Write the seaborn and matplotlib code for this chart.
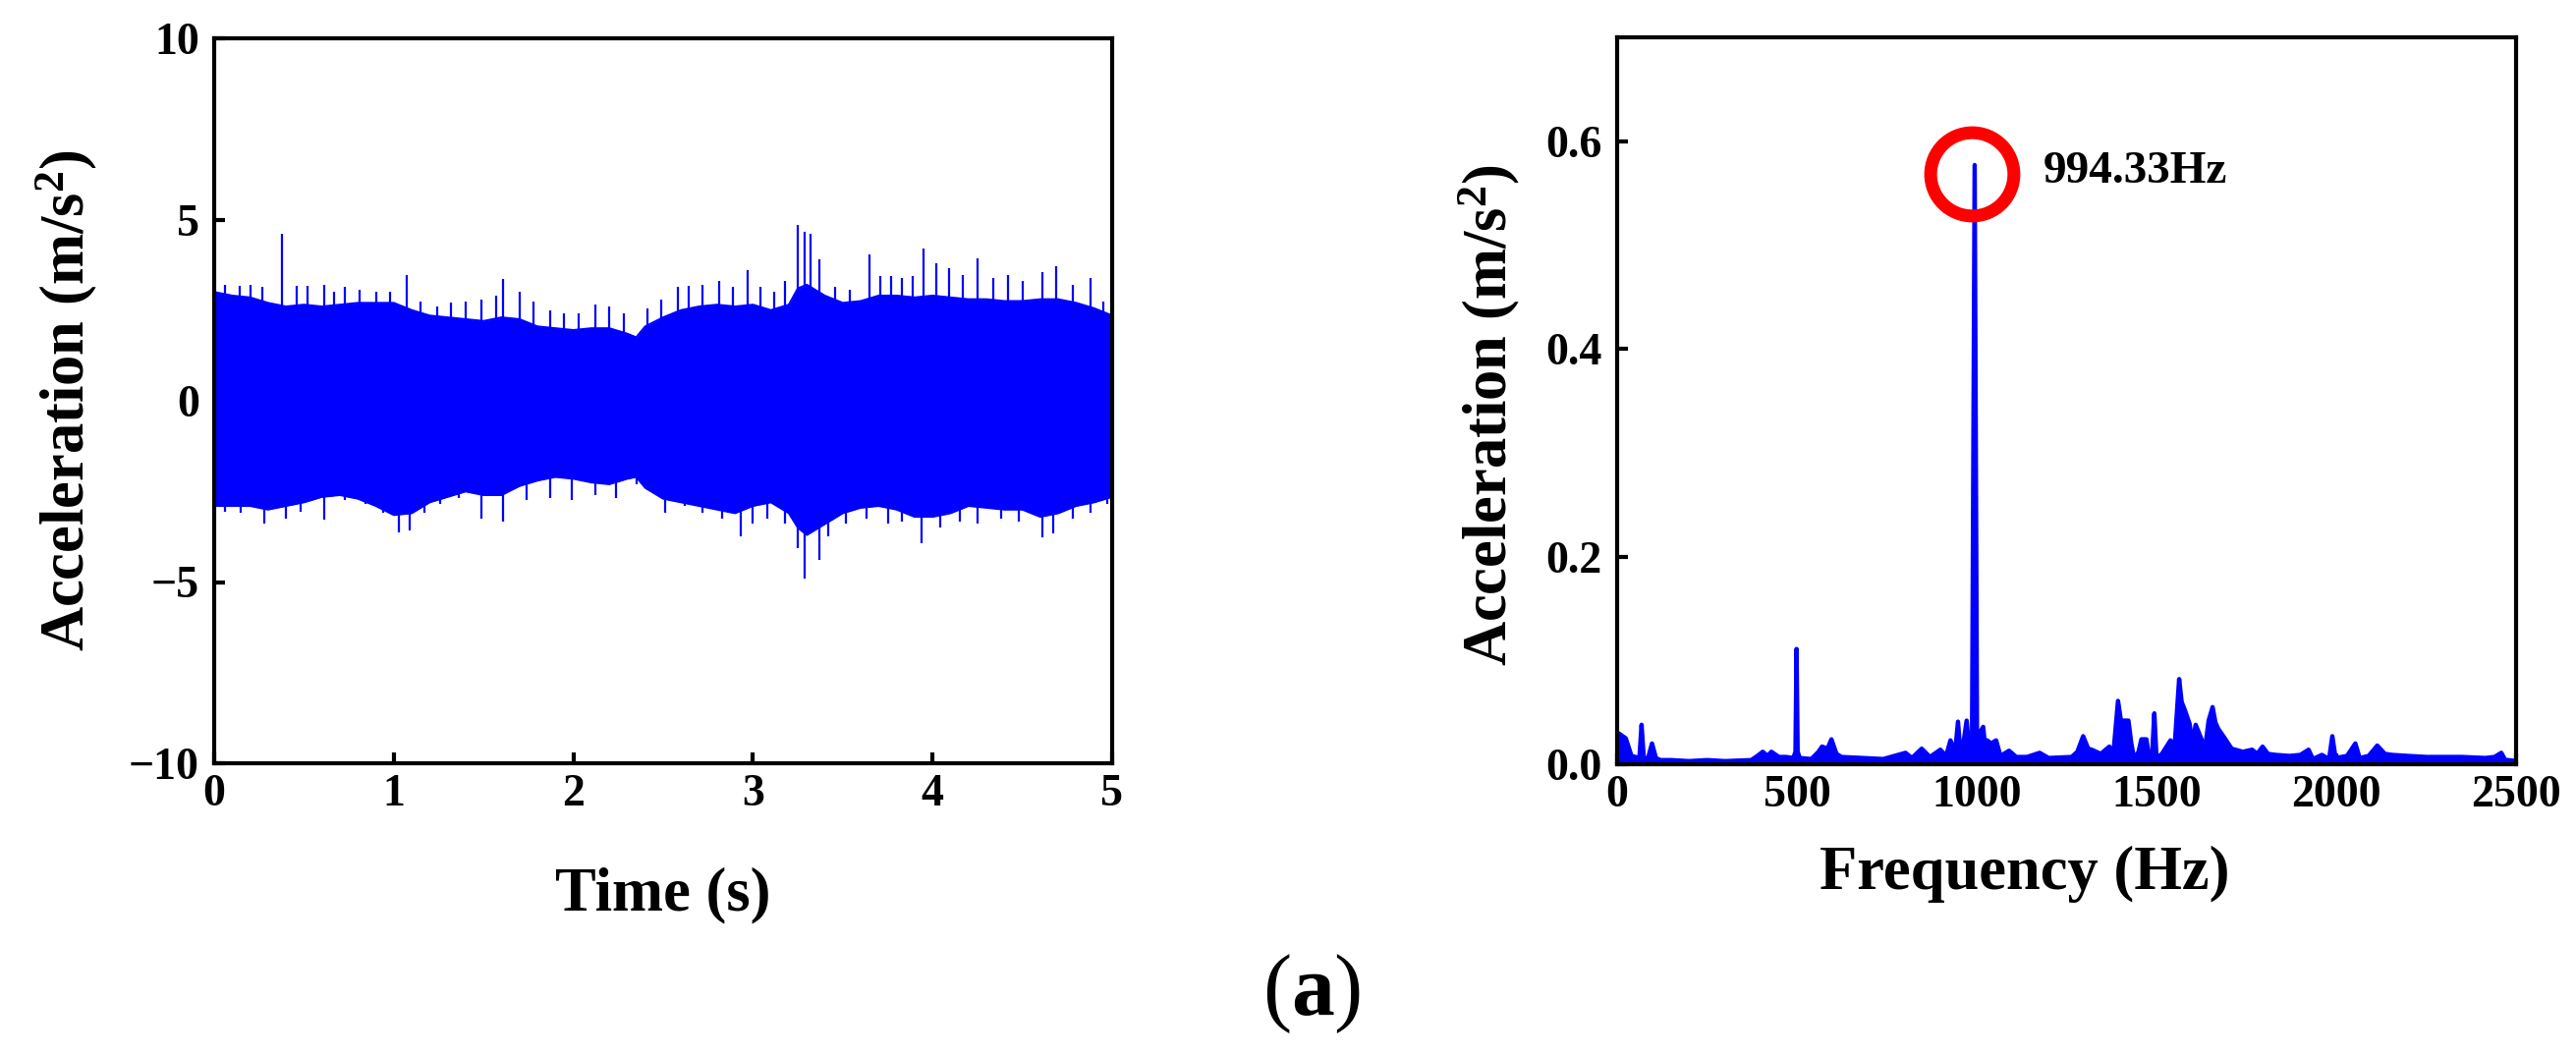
import numpy as np
import pandas as pd
import matplotlib
matplotlib.use("Agg")
import matplotlib.pyplot as plt
import matplotlib.transforms as mtransforms
import seaborn as sns

# ---------------- data ----------------
# Time-domain signal: envelope of the dense vibration band
band_t = [0.0, 0.1, 0.2, 0.3, 0.4, 0.5, 0.6, 0.7, 0.8, 0.9, 1.0, 1.1, 1.2, 1.3, 1.4,
          1.5, 1.6, 1.7, 1.8, 1.9, 2.0, 2.1, 2.2, 2.3, 2.35, 2.4, 2.5, 2.6, 2.7, 2.8,
          2.9, 3.0, 3.1, 3.2, 3.25, 3.3, 3.4, 3.5, 3.6, 3.7, 3.8, 3.9, 4.0, 4.1, 4.2,
          4.3, 4.4, 4.5, 4.6, 4.7, 4.8, 4.9, 5.0]
band_hi = [3.0, 2.9, 2.85, 2.7, 2.6, 2.65, 2.6, 2.65, 2.7, 2.7, 2.7, 2.5, 2.35, 2.3, 2.25,
           2.2, 2.3, 2.25, 2.05, 2.0, 1.95, 2.0, 2.0, 1.85, 1.75, 2.05, 2.3, 2.5, 2.6, 2.65,
           2.6, 2.65, 2.5, 2.65, 3.1, 3.2, 2.9, 2.7, 2.75, 2.9, 2.9, 2.85, 2.9, 2.85, 2.8,
           2.8, 2.75, 2.75, 2.8, 2.8, 2.7, 2.55, 2.35]
band_lo = [-2.9, -2.9, -2.9, -3.0, -2.9, -2.8, -2.65, -2.6, -2.7, -2.9, -3.15, -3.1, -2.8, -2.65, -2.5,
           -2.6, -2.6, -2.35, -2.2, -2.1, -2.15, -2.25, -2.3, -2.15, -2.1, -2.4, -2.7, -2.8, -2.9, -3.0,
           -3.1, -2.9, -2.8, -3.1, -3.5, -3.7, -3.4, -3.1, -2.95, -2.9, -3.0, -3.2, -3.2, -3.1, -2.9,
           -2.95, -3.0, -3.0, -3.2, -3.1, -2.9, -2.8, -2.65]
# isolated peaks sticking out of the band (positive side)
spike_up_t = [0.06, 0.14, 0.20, 0.27, 0.377, 0.46, 0.52, 0.61, 0.67, 0.73, 0.81, 0.90, 0.98,
              1.07, 1.15, 1.24, 1.32, 1.40, 1.49, 1.57, 1.61, 1.70, 1.78, 1.87, 1.95, 2.03,
              2.12, 2.20, 2.28, 2.41, 2.49, 2.58, 2.64, 2.72, 2.81, 2.89, 2.97, 3.04, 3.12,
              3.18, 3.25, 3.29, 3.32, 3.37, 3.46, 3.54, 3.65, 3.71, 3.77, 3.83, 3.89, 3.95,
              4.02, 4.09, 4.17, 4.25, 4.34, 4.42, 4.50, 4.61, 4.69, 4.78, 4.88, 4.95]
spike_up_v = [3.2, 3.18, 3.2, 3.15, 4.62, 3.18, 3.18, 3.2, 3.0, 3.15, 3.07, 3.0, 3.0,
              3.47, 2.75, 2.6, 2.7, 2.75, 2.8, 2.9, 3.35, 3.0, 2.75, 2.5, 2.4, 2.4,
              2.65, 2.6, 2.4, 2.55, 2.8, 3.15, 3.18, 3.2, 3.3, 3.15, 3.6, 3.15, 3.0,
              3.3, 4.85, 4.65, 4.6, 3.9, 3.15, 3.07, 4.05, 3.45, 3.45, 3.4, 3.45, 4.2,
              3.8, 3.65, 3.47, 3.93, 3.4, 3.47, 3.3, 3.55, 3.7, 3.2, 3.4, 2.75]
# isolated peaks sticking out of the band (negative side)
spike_dn_t = [0.06, 0.15, 0.28, 0.40, 0.48, 0.61, 0.73, 0.84, 0.94, 1.03, 1.09, 1.17, 1.26,
              1.36, 1.49, 1.61, 1.74, 1.87, 1.99, 2.12, 2.24, 2.35, 2.51, 2.62, 2.72, 2.83,
              2.93, 3.00, 3.08, 3.18, 3.25, 3.29, 3.37, 3.42, 3.52, 3.63, 3.75, 3.83, 3.94,
              4.04, 4.15, 4.25, 4.38, 4.48, 4.61, 4.67, 4.78, 4.88, 4.97]
spike_dn_v = [-3.05, -3.1, -3.4, -3.25, -3.05, -3.28, -2.75, -2.85, -3.08, -3.62, -3.57, -3.08, -2.85,
              -2.67, -3.25, -3.33, -2.75, -2.67, -2.75, -2.6, -2.67, -2.3, -3.1, -2.9, -3.08, -3.25,
              -3.74, -3.4, -3.25, -3.4, -4.07, -4.9, -4.4, -3.74, -3.4, -3.25, -3.4, -3.33, -3.93,
              -3.5, -3.33, -3.4, -3.25, -3.33, -3.78, -3.66, -3.25, -3.08, -2.85]

# Frequency spectrum
freq = [0, 3, 24, 40, 62, 68, 74, 86, 97, 108, 120, 150, 200, 250, 300, 373, 390,
        405, 418, 429, 450, 470, 490, 496, 499, 502, 508, 540, 560, 570, 585, 596,
        610, 624, 680, 740, 802, 820, 847, 870, 899, 915, 927, 940, 948, 955, 963,
        972, 980, 987, 994.33, 1001, 1008, 1018, 1024, 1029, 1040, 1054, 1066, 1090,
        1110, 1140, 1175, 1200, 1264, 1280, 1296, 1310, 1320, 1345, 1369, 1380, 1393,
        1402, 1409, 1422, 1430, 1438, 1450, 1458, 1472, 1480, 1488, 1494, 1500, 1515,
        1539, 1550, 1563, 1570, 1579, 1592, 1600, 1609, 1623, 1635, 1645, 1656, 1664,
        1672, 1688, 1709, 1740, 1766, 1780, 1795, 1810, 1831, 1870, 1900, 1923, 1935,
        1960, 1980, 1989, 1998, 2030, 2053, 2065, 2090, 2114, 2135, 2155, 2200, 2252,
        2300, 2350, 2414, 2440, 2459, 2470, 2478, 2500]
amp = [0.030, 0.030, 0.025, 0.008, 0.006, 0.038, 0.006, 0.006, 0.020, 0.006, 0.004, 0.004,
       0.003, 0.004, 0.003, 0.004, 0.008, 0.012, 0.008, 0.012, 0.007, 0.007, 0.006, 0.012,
       0.111, 0.012, 0.006, 0.005, 0.012, 0.017, 0.015, 0.024, 0.010, 0.007, 0.006, 0.005,
       0.011, 0.006, 0.015, 0.007, 0.014, 0.008, 0.023, 0.012, 0.041, 0.010, 0.020, 0.042,
       0.012, 0.020, 0.577, 0.015, 0.030, 0.036, 0.015, 0.023, 0.020, 0.023, 0.008, 0.013,
       0.007, 0.007, 0.011, 0.006, 0.007, 0.012, 0.027, 0.015, 0.014, 0.010, 0.017, 0.010,
       0.061, 0.040, 0.042, 0.042, 0.020, 0.005, 0.012, 0.024, 0.024, 0.005, 0.010, 0.049,
       0.006, 0.010, 0.023, 0.015, 0.082, 0.060, 0.052, 0.039, 0.020, 0.038, 0.026, 0.015,
       0.042, 0.055, 0.040, 0.034, 0.026, 0.015, 0.012, 0.014, 0.010, 0.017, 0.010, 0.009,
       0.008, 0.009, 0.014, 0.005, 0.009, 0.005, 0.027, 0.006, 0.008, 0.020, 0.006, 0.008,
       0.018, 0.010, 0.009, 0.008, 0.007, 0.007, 0.007, 0.006, 0.007, 0.011, 0.004, 0.004,
       0.003]

peak_freq = 994.33
peak_amp = 0.577
peak_label = "994.33Hz"

time_ticks = [0, 1, 2, 3, 4, 5]
acc_ticks = [-10, -5, 0, 5, 10]
freq_ticks = [0, 500, 1000, 1500, 2000, 2500]
spec_ticks = [0.0, 0.2, 0.4, 0.6]

# ---------------- style ----------------
sns.set_style("ticks")
plt.rcParams["font.family"] = ["Liberation Serif", "DejaVu Serif"]
plt.rcParams["font.weight"] = "bold"
plt.rcParams["mathtext.fontset"] = "custom"
plt.rcParams["mathtext.rm"] = "Liberation Serif:regular"
plt.rcParams["mathtext.bf"] = "Liberation Serif:bold"
plt.rcParams["mathtext.it"] = "Liberation Serif:italic"
plt.rcParams["axes.unicode_minus"] = True
for k in ("text.color", "axes.labelcolor", "xtick.color", "ytick.color",
          "xtick.labelcolor", "ytick.labelcolor", "axes.edgecolor"):
    plt.rcParams[k] = "black"

BLUE = "#0000FF"
TICK_FS = 33
LABEL_FS = 45

W, H = 2622, 1074
fig = plt.figure(figsize=(W / 100, H / 100), dpi=100)
ax1 = fig.add_axes([218 / W, 1 - 777 / H, 914 / W, 738 / H])
ax2 = fig.add_axes([1646 / W, 1 - 778 / H, 915 / W, 740 / H])

# ---------------- left: time signal ----------------
sig = pd.DataFrame({"t": band_t, "hi": band_hi, "lo": band_lo})
ax1.fill_between(sig["t"], sig["lo"], sig["hi"], color=BLUE, linewidth=0)
sns.lineplot(data=sig, x="t", y="hi", ax=ax1, color=BLUE, lw=1.5)
sns.lineplot(data=sig, x="t", y="lo", ax=ax1, color=BLUE, lw=1.5)
ax1.vlines(spike_up_t, 0, spike_up_v, color=BLUE, lw=1.6)
ax1.vlines(spike_dn_t, 0, spike_dn_v, color=BLUE, lw=1.6)
ax1.set_xlim(0, 5)
ax1.set_ylim(-10, 10)
ax1.set_xticks(time_ticks)
ax1.set_yticks(acc_ticks)
ax1.set_xlabel("Time (s)", fontsize=LABEL_FS, fontweight="bold")
ax1.set_ylabel(r"Acceleration (m/s$^{\mathbf{2}}$)", fontsize=LABEL_FS, fontweight="bold")
ax1.xaxis.set_label_coords(0.5, -0.143)
ax1.yaxis.set_label_coords(-0.128, 0.5)

# ---------------- right: spectrum ----------------
spec = pd.DataFrame({"f": freq, "a": amp})
ax2.fill_between(spec["f"], 0, spec["a"], color=BLUE, linewidth=0)
sns.lineplot(data=spec, x="f", y="a", ax=ax2, color=BLUE, lw=3.2)
ax2.set_xlim(0, 2500)
ax2.set_ylim(0, 0.7)
ax2.set_xticks(freq_ticks)
ax2.set_yticks(spec_ticks)
ax2.yaxis.set_major_formatter(matplotlib.ticker.FormatStrFormatter("%.1f"))
ax2.set_xlabel("Frequency (Hz)", fontsize=LABEL_FS, fontweight="bold")
ax2.set_ylabel(r"Acceleration (m/s$^{\mathbf{2}}$)", fontsize=LABEL_FS, fontweight="bold")
ax2.xaxis.set_label_coords(0.4536, -0.112)
ax2.yaxis.set_label_coords(-0.106, 0.48)

# highlight circle and label at the dominant peak
circ_tr = mtransforms.offset_copy(ax2.transData, fig=fig, x=-2.2, y=-6.5, units="points")
ax2.plot([peak_freq], [peak_amp], marker="o", ms=61, mfc="none", mec="#FF0000",
         mew=9.4, transform=circ_tr, zorder=5, clip_on=False)
ax2.annotate(peak_label, xy=(peak_freq, peak_amp), xytext=(50, -13),
             textcoords="offset points", ha="left", va="baseline",
             fontsize=34, fontweight="bold", color="black")

for ax in (ax1, ax2):
    for s in ax.spines.values():
        s.set_linewidth(3)
        s.set_color("black")
    ax.tick_params(direction="in", length=8, width=3, labelsize=TICK_FS, color="black",
                   labelcolor="black")
    ax.tick_params(axis="x", pad=8)
    ax.tick_params(axis="y", pad=11)
    for lab in ax.get_xticklabels() + ax.get_yticklabels():
        lab.set_fontweight("bold")

# panel caption
fig.text(1335 / W, 1 - 1033 / H, r"$(\mathbf{a})$", fontsize=63, ha="center",
         va="baseline", color="black")

fig.savefig("out.png", dpi=100, facecolor="white")
